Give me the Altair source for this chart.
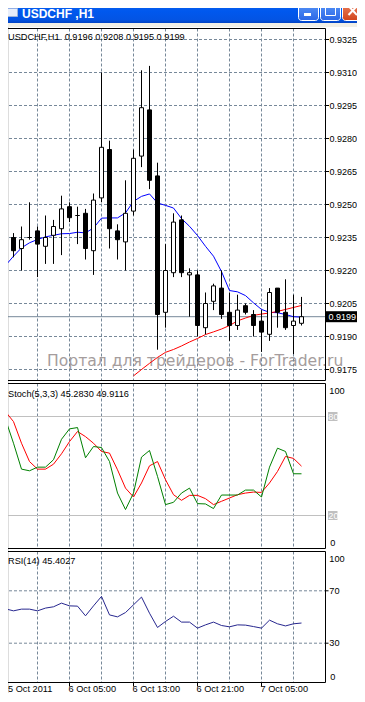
import altair as alt
import pandas as pd

# ---------------- data ----------------
idx = list(range(38))
opens = [0.9237, 0.9235, 0.9230, 0.9235, 0.9238, 0.9231, 0.9236, 0.9239, 0.9249, 0.9245,
         0.9246, 0.9229, 0.9253, 0.9275, 0.9238, 0.9233, 0.9247, 0.9272, 0.9293, 0.9263,
         0.9201, 0.9219, 0.9243, 0.9218, 0.9218, 0.9194, 0.9206, 0.9212, 0.9201, 0.9195,
         0.9204, 0.9200, 0.9197, 0.9191, 0.9212, 0.9201, 0.9195, 0.9196]
highs = [0.9242, 0.9237, 0.9240, 0.9251, 0.9240, 0.9245, 0.9243, 0.9254, 0.9251, 0.9249,
         0.9248, 0.9255, 0.9310, 0.9279, 0.9241, 0.9261, 0.9275, 0.9311, 0.9313, 0.9269,
         0.9232, 0.9246, 0.9245, 0.9221, 0.9220, 0.9210, 0.9214, 0.9220, 0.9210, 0.9209,
         0.9205, 0.9202, 0.9202, 0.9212, 0.9212, 0.9216, 0.9209, 0.9208]
lows = [0.9230, 0.9226, 0.9220, 0.9234, 0.9217, 0.9223, 0.9223, 0.9227, 0.9242, 0.9232,
        0.9225, 0.9218, 0.9251, 0.9230, 0.9225, 0.9220, 0.9245, 0.9267, 0.9257, 0.9184,
        0.9194, 0.9217, 0.9217, 0.9199, 0.9190, 0.9191, 0.9202, 0.9198, 0.9188, 0.9193,
        0.9200, 0.9190, 0.9183, 0.9188, 0.9194, 0.9193, 0.9182, 0.9195]
closes = [0.9234, 0.9229, 0.9234, 0.9235, 0.9232, 0.9235, 0.9240, 0.9248, 0.9244, 0.9245,
          0.9230, 0.9252, 0.9276, 0.9239, 0.9234, 0.9246, 0.9271, 0.9294, 0.9261, 0.9200,
          0.9220, 0.9242, 0.9219, 0.9219, 0.9195, 0.9205, 0.9213, 0.9200, 0.9195, 0.9202,
          0.9201, 0.9195, 0.9192, 0.9210, 0.9201, 0.9194, 0.9197, 0.9199]
ma_fast = [0.92223, 0.92265, 0.92303, 0.92326, 0.92341, 0.92353, 0.92360, 0.92367, 0.92368, 0.92374,
           0.92371, 0.92393, 0.92438, 0.92439, 0.92439, 0.92462, 0.92514, 0.92537, 0.92548, 0.92507,
           0.92496, 0.92484, 0.92436, 0.92401, 0.92359, 0.92310, 0.92265, 0.92195, 0.92109, 0.92103,
           0.92086, 0.92053, 0.92023, 0.92010, 0.92008, 0.92000, 0.91990, 0.91988]
ma_slow_idx = list(range(16, 38))
ma_slow = [0.91721, 0.91750, 0.91778, 0.91805, 0.91828, 0.91841, 0.91857, 0.91875, 0.91891, 0.91909,
           0.91921, 0.91934, 0.91950, 0.91971, 0.91984, 0.91996, 0.92002, 0.92007, 0.92014, 0.92023,
           0.92032, 0.92041]
stoch_main = [78.3, 63.8, 48.1, 47.1, 49.3, 49.3, 53.8, 66.2, 72.5, 73.3,
              55.0, 61.8, 61.2, 52.7, 33.6, 23.6, 33.6, 55.4, 59.4, 43.7,
              26.6, 28.0, 33.6, 36.6, 27.2, 27.0, 24.2, 32.4, 32.4, 32.4,
              35.4, 35.4, 31.2, 49.3, 60.8, 58.8, 45.3, 45.28]
stoch_signal = [82.9, 76.9, 63.8, 52.7, 48.1, 48.1, 51.1, 57.4, 64.8, 70.9,
                67.8, 63.8, 58.8, 57.8, 47.7, 36.6, 31.2, 39.7, 50.1, 52.7,
                41.7, 32.6, 29.2, 32.2, 32.2, 30.2, 26.6, 28.6, 30.6, 32.6,
                33.6, 34.2, 34.0, 39.7, 46.7, 55.8, 54.6, 49.91]
rsi = [56.2, 54.7, 56.0, 56.0, 54.7, 56.8, 57.8, 60.6, 58.5, 58.3,
       50.9, 58.5, 65.7, 51.6, 50.1, 53.4, 59.3, 65.2, 52.9, 42.0,
       46.6, 50.6, 46.1, 46.1, 41.5, 44.0, 46.1, 43.5, 42.5, 44.0,
       43.8, 42.7, 41.5, 47.6, 44.8, 43.2, 44.8, 45.40]
price_ticks = [0.9325, 0.9310, 0.9295, 0.9280, 0.9265, 0.9250, 0.9235, 0.9220, 0.9205, 0.9190, 0.9175]
grid_k = [4, 8, 12, 16, 20, 24, 28, 32, 36]
time_k = [0, 8, 16, 24, 32]
time_labels = ["5 Oct 2011", "6 Oct 05:00", "6 Oct 13:00", "6 Oct 21:00", "7 Oct 05:00"]
last_price = 0.9199
stoch_levels = [80, 20]
rsi_levels = [70, 30]
main_label = "USDCHF,H1\u00a0\u00a00.9196 0.9208 0.9195 0.9199"
stoch_label = "Stoch(5,3,3) 45.2830 49.9116"
rsi_label = "RSI(14) 45.4027"
window_title = "USDCHF ,H1"
watermark = "Портал для трейдеров - ForTrader.ru"

# ---------------- layout ----------------
W, H = 349, 685
FONT = "Liberation Sans"
FS = 9.2
GRID = "#778899"
MAIN_T, MAIN_B = 20.5, 372.5
ST_T, ST_B = 375.5, 540.5
RS_T, RS_B = 543.5, 674.5
RIGHT = 317.5


def sx():
    return alt.Scale(domain=[0, 40], range=[-2.5, 317.5], nice=False, zero=False)


def sp():
    return alt.Scale(domain=[0.9175, 0.9325], range=[361.5, 31.5], nice=False, zero=False)


def ss():
    return alt.Scale(domain=[0, 100], range=[ST_B, ST_T], nice=False, zero=False)


def sr():
    return alt.Scale(domain=[0, 100], range=[RS_B, RS_T], nice=False, zero=False)


one = alt.Chart(pd.DataFrame({"d": [0]}))
candles = pd.DataFrame({"k": idx, "open": opens, "high": highs, "low": lows, "close": closes})
fast_df = pd.DataFrame({"k": idx, "v": ma_fast})
slow_df = pd.DataFrame({"k": ma_slow_idx, "v": ma_slow})
st_df = pd.DataFrame({"k": idx, "m": stoch_main, "s": stoch_signal})
rsi_df = pd.DataFrame({"k": idx, "v": rsi})
grid_df = pd.DataFrame({"k": grid_k})
pt_df = pd.DataFrame({"p": price_ticks, "t": [f"{v:.4f}" for v in price_ticks]})
time_df = pd.DataFrame({"k": time_k, "t": time_labels})

X = alt.X("k:Q", scale=sx(), axis=None)
layers = []

# window title bar
title_grad = alt.Gradient(
    gradient="linear",
    stops=[alt.GradientStop(color="#3D8BF5", offset=0),
           alt.GradientStop(color="#0A61EE", offset=0.12),
           alt.GradientStop(color="#0058EE", offset=0.5),
           alt.GradientStop(color="#0354E4", offset=0.85),
           alt.GradientStop(color="#0143C4", offset=1)],
    x1=0, x2=0, y1=0, y2=1)
layers.append(one.mark_rect(color=title_grad).encode(
    x=alt.value(0), x2=alt.value(W), y=alt.value(-8), y2=alt.value(15)))
layers.append(one.mark_rect(color="#f1efe6").encode(
    x=alt.value(0), x2=alt.value(W), y=alt.value(15), y2=alt.value(19)))
# icon
layers.append(one.mark_rect(fill="#e8eefa", stroke="#9fb4d8", strokeWidth=1).encode(
    x=alt.value(-3.5), x2=alt.value(9.5), y=alt.value(-2.5), y2=alt.value(8.5)))
layers.append(one.mark_rect(color="#3a6fd0").encode(
    x=alt.value(-3.5), x2=alt.value(9.5), y=alt.value(-2.5), y2=alt.value(0.5)))
layers.append(one.mark_text(text=window_title, align="left", baseline="middle", font="Liberation Sans",
                            fontWeight="bold", fontSize=12, color="white").encode(
    x=alt.value(14), y=alt.value(5.5)))
# window buttons
btn_grad = alt.Gradient(gradient="linear",
                        stops=[alt.GradientStop(color="#5C9BFA", offset=0),
                               alt.GradientStop(color="#2C67E6", offset=1)],
                        x1=0, x2=0, y1=0, y2=1)
close_grad = alt.Gradient(gradient="linear",
                          stops=[alt.GradientStop(color="#EE8A68", offset=0),
                                 alt.GradientStop(color="#D2431B", offset=1)],
                          x1=0, x2=0, y1=0, y2=1)
for x0, g in [(290.5, btn_grad), (312.5, btn_grad), (334.5, close_grad)]:
    layers.append(one.mark_rect(color=g, stroke="white", strokeWidth=1, cornerRadius=3).encode(
        x=alt.value(x0), x2=alt.value(x0 + 20), y=alt.value(-7.5), y2=alt.value(12.5)))
layers.append(one.mark_rect(color="white").encode(
    x=alt.value(296), x2=alt.value(303), y=alt.value(5), y2=alt.value(8)))
layers.append(one.mark_rect(fillOpacity=0, stroke="white", strokeWidth=1).encode(
    x=alt.value(317.5), x2=alt.value(327.5), y=alt.value(-3.5), y2=alt.value(7.5)))
layers.append(one.mark_rect(color="white").encode(
    x=alt.value(317.5), x2=alt.value(327.5), y=alt.value(-3.5), y2=alt.value(-1)))
layers.append(one.mark_rule(color="white", strokeWidth=2).encode(
    x=alt.value(340.5), x2=alt.value(349), y=alt.value(-2), y2=alt.value(7)))
layers.append(one.mark_rule(color="white", strokeWidth=2).encode(
    x=alt.value(340.5), x2=alt.value(349), y=alt.value(7), y2=alt.value(-2)))

# watermark
layers.append(one.mark_text(text=watermark, align="left", baseline="middle", font="DejaVu Sans",
                            fontSize=15.6, color="#a59d9d").encode(x=alt.value(39), y=alt.value(352.5)))

# grids
layers.append(alt.Chart(pt_df).mark_rule(color=GRID, strokeDash=[3, 2]).encode(
    y=alt.Y("p:Q", scale=sp(), axis=None), x=alt.value(-4), x2=alt.value(RIGHT)))
for t, b in [(MAIN_T, MAIN_B), (ST_T, ST_B), (RS_T, RS_B)]:
    layers.append(alt.Chart(grid_df).mark_rule(color=GRID, strokeDash=[3, 2]).encode(
        x=X, y=alt.value(t), y2=alt.value(b)))
layers.append(alt.Chart(pd.DataFrame({"v": stoch_levels})).mark_rule(color="#c0c0c0").encode(
    y=alt.Y("v:Q", scale=ss(), axis=None), x=alt.value(-4), x2=alt.value(RIGHT)))
layers.append(alt.Chart(pd.DataFrame({"v": rsi_levels})).mark_rule(color=GRID, strokeDash=[3, 2]).encode(
    y=alt.Y("v:Q", scale=sr(), axis=None), x=alt.value(-4), x2=alt.value(RIGHT)))
# current price line
layers.append(alt.Chart(pd.DataFrame({"p": [last_price]})).mark_rule(color=GRID).encode(
    y=alt.Y("p:Q", scale=sp(), axis=None), x=alt.value(-4), x2=alt.value(RIGHT)))

# moving averages
layers.append(alt.Chart(fast_df).mark_line(color="#0000ff", strokeWidth=1).encode(
    x=X, y=alt.Y("v:Q", scale=sp(), axis=None)))
layers.append(alt.Chart(slow_df).mark_line(color="#ff0000", strokeWidth=1).encode(
    x=X, y=alt.Y("v:Q", scale=sp(), axis=None)))

# candles
layers.append(alt.Chart(candles).mark_rule(color="black", strokeWidth=1).encode(
    x=X, y=alt.Y("low:Q", scale=sp(), axis=None), y2="high:Q"))
layers.append(alt.Chart(candles).transform_calculate(
    xa="datum.k - 0.25", xb="datum.k + 0.25").mark_rect(stroke="black", strokeWidth=1).encode(
    x=alt.X("xa:Q", scale=sx(), axis=None), x2="xb:Q",
    y=alt.Y("open:Q", scale=sp(), axis=None), y2="close:Q",
    color=alt.condition("datum.close >= datum.open", alt.value("white"), alt.value("black"))))

# stochastic
layers.append(alt.Chart(st_df).mark_line(color="#ff0000", strokeWidth=1).encode(
    x=X, y=alt.Y("s:Q", scale=ss(), axis=None)))
layers.append(alt.Chart(st_df).mark_line(color="#008000", strokeWidth=1).encode(
    x=X, y=alt.Y("m:Q", scale=ss(), axis=None)))
# rsi
layers.append(alt.Chart(rsi_df).mark_line(color="#27278f", strokeWidth=1).encode(
    x=X, y=alt.Y("v:Q", scale=sr(), axis=None)))

# panel frames
for t, b in [(MAIN_T, MAIN_B), (ST_T, ST_B), (RS_T, RS_B)]:
    layers.append(one.mark_rect(fillOpacity=0, stroke="black", strokeWidth=1).encode(
        x=alt.value(-4), x2=alt.value(RIGHT), y=alt.value(t), y2=alt.value(b)))

# price axis
layers.append(alt.Chart(pt_df).mark_rule(color="black").encode(
    y=alt.Y("p:Q", scale=sp(), axis=None), x=alt.value(RIGHT), x2=alt.value(321)))
layers.append(alt.Chart(pt_df).mark_text(align="left", baseline="middle", font=FONT, fontSize=9).encode(
    y=alt.Y("p:Q", scale=sp(), axis=None), x=alt.value(321.5), text="t:N"))
lp_df = pd.DataFrame({"p": [last_price], "t": [f"{last_price:.4f}"]})
layers.append(alt.Chart(lp_df).mark_rule(color="black", strokeWidth=11).encode(
    y=alt.Y("p:Q", scale=sp(), axis=None), x=alt.value(318), x2=alt.value(W)))
layers.append(alt.Chart(lp_df).mark_text(align="left", baseline="middle", font=FONT, fontSize=9,
                                         color="white").encode(
    y=alt.Y("p:Q", scale=sp(), axis=None), x=alt.value(320.5), text="t:N"))

# stochastic axis
layers.append(alt.Chart(pd.DataFrame({"v": [100]})).mark_text(
    align="left", baseline="middle", font=FONT, fontSize=FS, dy=7).encode(
    y=alt.Y("v:Q", scale=ss(), axis=None), x=alt.value(321.3), text="v:N"))
layers.append(alt.Chart(pd.DataFrame({"v": [0]})).mark_text(
    align="left", baseline="middle", font=FONT, fontSize=FS, dy=-6).encode(
    y=alt.Y("v:Q", scale=ss(), axis=None), x=alt.value(322.3), text="v:N"))
sl_df = pd.DataFrame({"v": stoch_levels})
layers.append(alt.Chart(sl_df).mark_rule(color="#c0c0c0", strokeWidth=9).encode(
    y=alt.Y("v:Q", scale=ss(), axis=None), x=alt.value(320), x2=alt.value(329.5)))
layers.append(alt.Chart(sl_df).mark_text(align="left", baseline="middle", font=FONT, fontSize=FS,
                                         color="white").encode(
    y=alt.Y("v:Q", scale=ss(), axis=None), x=alt.value(320.3), text="v:N"))

# rsi axis
layers.append(alt.Chart(pd.DataFrame({"v": [100]})).mark_text(
    align="left", baseline="middle", font=FONT, fontSize=FS, dy=7).encode(
    y=alt.Y("v:Q", scale=sr(), axis=None), x=alt.value(321.3), text="v:N"))
layers.append(alt.Chart(pd.DataFrame({"v": [0]})).mark_text(
    align="left", baseline="middle", font=FONT, fontSize=FS, dy=-6).encode(
    y=alt.Y("v:Q", scale=sr(), axis=None), x=alt.value(322.3), text="v:N"))
rl_df = pd.DataFrame({"v": rsi_levels})
layers.append(alt.Chart(rl_df).mark_rule(color="black").encode(
    y=alt.Y("v:Q", scale=sr(), axis=None), x=alt.value(RIGHT), x2=alt.value(320.5)))
layers.append(alt.Chart(rl_df).mark_text(align="left", baseline="middle", font=FONT, fontSize=FS).encode(
    y=alt.Y("v:Q", scale=sr(), axis=None), x=alt.value(321.3), text="v:N"))

# time axis
layers.append(alt.Chart(time_df).mark_rule(color="black").encode(
    x=X, y=alt.value(RS_B), y2=alt.value(678.5)))
layers.append(alt.Chart(time_df).transform_calculate(
    kl="max(datum.k - 0.12, 0.32)").mark_text(
    align="left", baseline="middle", font=FONT, fontSize=FS).encode(
    x=alt.X("kl:Q", scale=sx(), axis=None), y=alt.value(681), text="t:N"))

# panel captions
for txt, yy in [(main_label, 28.7), (stoch_label, 386), (rsi_label, 553)]:
    layers.append(one.mark_text(text=txt, align="left", baseline="middle", font=FONT,
                                fontSize=FS, color="black").encode(x=alt.value(0), y=alt.value(yy)))

chart = alt.layer(*layers).resolve_scale(y="independent").properties(
    width=W, height=H, autosize=alt.AutoSizeParams(type="none"), padding=0
).configure_view(stroke=None).configure(background="white")

chart.save("out.html", embed_options={"renderer": "svg", "actions": False})
